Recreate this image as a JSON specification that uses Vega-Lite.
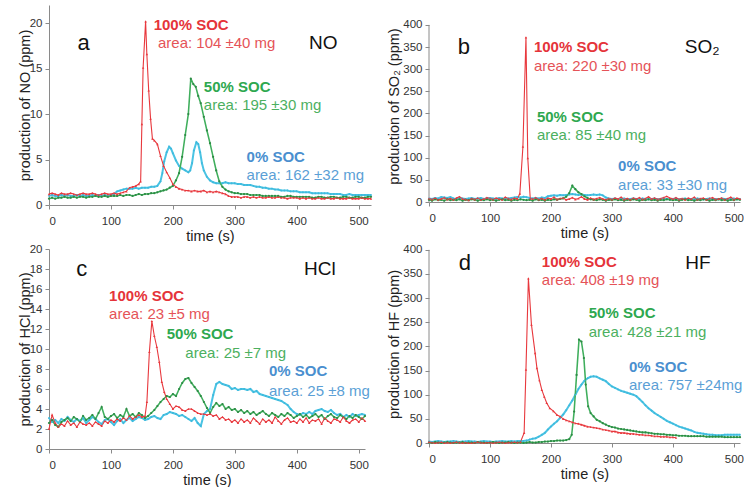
{
"$schema":"https://vega.github.io/schema/vega-lite/v6.json",
"padding":{"left":17,"top":5,"right":0,"bottom":0},
"config":{"font":"Liberation Sans","view":{"stroke":null},
"axis":{"grid":false,"domainColor":"#8a8a8a","tickColor":"#8a8a8a","tickSize":4,"labelFontSize":11.5,"labelColor":"#333","labelPadding":3,"titleFontSize":14.5,"titleFontWeight":"normal","titleColor":"#222","labelFont":"Liberation Sans","titleFont":"Liberation Sans"},
"axisX":{"titlePadding":3,"labelPadding":6},
"axisY":{"titlePadding":-3},
"text":{"font":"Liberation Sans"}},
"datasets":{
"a":[
{"t":0,"s":"c","v":1.0},{"t":5,"s":"c","v":1.1},{"t":10,"s":"c","v":1.0},{"t":15,"s":"c","v":1.0},{"t":20,"s":"c","v":1.1},{"t":25,"s":"c","v":1.0},{"t":30,"s":"c","v":1.1},{"t":35,"s":"c","v":1.0},{"t":40,"s":"c","v":1.0},{"t":45,"s":"c","v":1.1},{"t":50,"s":"c","v":1.0},{"t":55,"s":"c","v":1.1},{"t":60,"s":"c","v":1.0},{"t":65,"s":"c","v":1.0},{"t":70,"s":"c","v":1.1},{"t":75,"s":"c","v":1.0},{"t":80,"s":"c","v":1.1},{"t":85,"s":"c","v":1.0},{"t":90,"s":"c","v":1.1},{"t":95,"s":"c","v":1.0},{"t":100,"s":"c","v":1.1},{"t":105,"s":"c","v":1.2},{"t":110,"s":"c","v":1.5},{"t":115,"s":"c","v":1.6},{"t":120,"s":"c","v":1.7},{"t":125,"s":"c","v":1.8},{"t":130,"s":"c","v":1.8},{"t":135,"s":"c","v":1.8},{"t":140,"s":"c","v":1.9},{"t":145,"s":"c","v":1.8},{"t":150,"s":"c","v":1.9},{"t":155,"s":"c","v":1.9},{"t":160,"s":"c","v":1.9},{"t":165,"s":"c","v":2.0},{"t":170,"s":"c","v":2.0},{"t":175,"s":"c","v":2.1},{"t":180,"s":"c","v":2.6},{"t":183,"s":"c","v":3.5},{"t":186,"s":"c","v":4.8},{"t":190,"s":"c","v":5.8},{"t":194,"s":"c","v":6.4},{"t":197,"s":"c","v":6.2},{"t":200,"s":"c","v":5.7},{"t":205,"s":"c","v":4.9},{"t":210,"s":"c","v":4.3},{"t":215,"s":"c","v":4.0},{"t":220,"s":"c","v":3.8},{"t":225,"s":"c","v":3.6},{"t":228,"s":"c","v":3.8},{"t":231,"s":"c","v":4.6},{"t":234,"s":"c","v":6.0},{"t":238,"s":"c","v":6.9},{"t":241,"s":"c","v":6.7},{"t":244,"s":"c","v":5.8},{"t":247,"s":"c","v":4.6},{"t":250,"s":"c","v":3.8},{"t":255,"s":"c","v":3.1},{"t":260,"s":"c","v":2.7},{"t":265,"s":"c","v":2.5},{"t":270,"s":"c","v":2.4},{"t":275,"s":"c","v":2.4},{"t":280,"s":"c","v":2.4},{"t":285,"s":"c","v":2.5},{"t":290,"s":"c","v":2.4},{"t":295,"s":"c","v":2.4},{"t":300,"s":"c","v":2.4},{"t":305,"s":"c","v":2.3},{"t":310,"s":"c","v":2.3},{"t":315,"s":"c","v":2.2},{"t":320,"s":"c","v":2.2},{"t":325,"s":"c","v":2.2},{"t":330,"s":"c","v":2.1},{"t":335,"s":"c","v":2.0},{"t":340,"s":"c","v":2.0},{"t":345,"s":"c","v":1.9},{"t":350,"s":"c","v":1.9},{"t":355,"s":"c","v":1.8},{"t":360,"s":"c","v":1.8},{"t":365,"s":"c","v":1.7},{"t":370,"s":"c","v":1.7},{"t":375,"s":"c","v":1.6},{"t":380,"s":"c","v":1.6},{"t":385,"s":"c","v":1.6},{"t":390,"s":"c","v":1.5},{"t":395,"s":"c","v":1.5},{"t":400,"s":"c","v":1.5},{"t":405,"s":"c","v":1.4},{"t":410,"s":"c","v":1.4},{"t":415,"s":"c","v":1.4},{"t":420,"s":"c","v":1.4},{"t":425,"s":"c","v":1.3},{"t":430,"s":"c","v":1.3},{"t":435,"s":"c","v":1.3},{"t":440,"s":"c","v":1.3},{"t":445,"s":"c","v":1.3},{"t":450,"s":"c","v":1.3},{"t":455,"s":"c","v":1.2},{"t":460,"s":"c","v":1.2},{"t":465,"s":"c","v":1.2},{"t":470,"s":"c","v":1.2},{"t":475,"s":"c","v":1.1},{"t":480,"s":"c","v":1.1},{"t":485,"s":"c","v":1.2},{"t":490,"s":"c","v":1.1},{"t":495,"s":"c","v":1.1},{"t":500,"s":"c","v":1.1},{"t":505,"s":"c","v":1.1},{"t":510,"s":"c","v":1.1},{"t":515,"s":"c","v":1.1},{"t":520,"s":"c","v":1.1},
{"t":0,"s":"g","v":0.7},{"t":5,"s":"g","v":0.8},{"t":10,"s":"g","v":0.7},{"t":15,"s":"g","v":0.8},{"t":20,"s":"g","v":0.8},{"t":25,"s":"g","v":0.9},{"t":30,"s":"g","v":0.8},{"t":35,"s":"g","v":0.8},{"t":40,"s":"g","v":0.9},{"t":45,"s":"g","v":0.8},{"t":50,"s":"g","v":0.9},{"t":55,"s":"g","v":0.9},{"t":60,"s":"g","v":0.8},{"t":65,"s":"g","v":0.9},{"t":70,"s":"g","v":0.9},{"t":75,"s":"g","v":1.0},{"t":80,"s":"g","v":0.9},{"t":85,"s":"g","v":0.9},{"t":90,"s":"g","v":1.0},{"t":95,"s":"g","v":0.9},{"t":100,"s":"g","v":1.0},{"t":105,"s":"g","v":1.0},{"t":110,"s":"g","v":1.0},{"t":115,"s":"g","v":1.1},{"t":120,"s":"g","v":1.0},{"t":125,"s":"g","v":1.1},{"t":130,"s":"g","v":1.1},{"t":135,"s":"g","v":1.0},{"t":140,"s":"g","v":1.1},{"t":145,"s":"g","v":1.2},{"t":150,"s":"g","v":1.1},{"t":155,"s":"g","v":1.2},{"t":160,"s":"g","v":1.2},{"t":165,"s":"g","v":1.3},{"t":170,"s":"g","v":1.3},{"t":175,"s":"g","v":1.4},{"t":180,"s":"g","v":1.5},{"t":185,"s":"g","v":1.6},{"t":190,"s":"g","v":1.7},{"t":195,"s":"g","v":1.9},{"t":200,"s":"g","v":2.1},{"t":205,"s":"g","v":2.7},{"t":210,"s":"g","v":3.5},{"t":215,"s":"g","v":5.3},{"t":220,"s":"g","v":7.7},{"t":225,"s":"g","v":10.0},{"t":229,"s":"g","v":13.9},{"t":233,"s":"g","v":13.3},{"t":237,"s":"g","v":13.0},{"t":241,"s":"g","v":12.0},{"t":245,"s":"g","v":11.2},{"t":250,"s":"g","v":9.7},{"t":255,"s":"g","v":8.2},{"t":260,"s":"g","v":6.8},{"t":265,"s":"g","v":5.3},{"t":270,"s":"g","v":3.8},{"t":275,"s":"g","v":2.6},{"t":280,"s":"g","v":2.0},{"t":285,"s":"g","v":1.7},{"t":290,"s":"g","v":1.5},{"t":295,"s":"g","v":1.4},{"t":300,"s":"g","v":1.3},{"t":305,"s":"g","v":1.3},{"t":310,"s":"g","v":1.2},{"t":315,"s":"g","v":1.2},{"t":320,"s":"g","v":1.2},{"t":325,"s":"g","v":1.1},{"t":330,"s":"g","v":1.1},{"t":335,"s":"g","v":1.1},{"t":340,"s":"g","v":1.1},{"t":345,"s":"g","v":1.0},{"t":350,"s":"g","v":1.0},{"t":355,"s":"g","v":1.0},{"t":360,"s":"g","v":1.0},{"t":365,"s":"g","v":1.0},{"t":370,"s":"g","v":1.0},{"t":375,"s":"g","v":0.9},{"t":380,"s":"g","v":0.9},{"t":385,"s":"g","v":1.0},{"t":390,"s":"g","v":1.0},{"t":395,"s":"g","v":0.9},{"t":400,"s":"g","v":0.9},{"t":405,"s":"g","v":0.9},{"t":410,"s":"g","v":0.9},{"t":415,"s":"g","v":0.9},{"t":420,"s":"g","v":0.9},{"t":425,"s":"g","v":0.8},{"t":430,"s":"g","v":0.8},{"t":435,"s":"g","v":0.9},{"t":440,"s":"g","v":0.9},{"t":445,"s":"g","v":0.8},{"t":450,"s":"g","v":0.8},{"t":455,"s":"g","v":0.9},{"t":460,"s":"g","v":0.9},{"t":465,"s":"g","v":0.8},{"t":470,"s":"g","v":0.8},{"t":475,"s":"g","v":0.9},{"t":480,"s":"g","v":0.9},{"t":485,"s":"g","v":0.8},{"t":490,"s":"g","v":0.8},{"t":495,"s":"g","v":0.9},{"t":500,"s":"g","v":0.9},{"t":505,"s":"g","v":0.8},{"t":510,"s":"g","v":0.8},{"t":515,"s":"g","v":0.9},{"t":520,"s":"g","v":0.9},
{"t":0,"s":"r","v":1.2},{"t":5,"s":"r","v":1.3},{"t":10,"s":"r","v":1.2},{"t":15,"s":"r","v":1.1},{"t":20,"s":"r","v":1.3},{"t":25,"s":"r","v":1.2},{"t":30,"s":"r","v":1.2},{"t":35,"s":"r","v":1.3},{"t":40,"s":"r","v":1.2},{"t":45,"s":"r","v":1.1},{"t":50,"s":"r","v":1.2},{"t":55,"s":"r","v":1.3},{"t":60,"s":"r","v":1.2},{"t":65,"s":"r","v":1.2},{"t":70,"s":"r","v":1.3},{"t":75,"s":"r","v":1.2},{"t":80,"s":"r","v":1.1},{"t":85,"s":"r","v":1.2},{"t":90,"s":"r","v":1.3},{"t":95,"s":"r","v":1.2},{"t":100,"s":"r","v":1.2},{"t":105,"s":"r","v":1.3},{"t":110,"s":"r","v":1.2},{"t":115,"s":"r","v":1.3},{"t":120,"s":"r","v":1.4},{"t":125,"s":"r","v":1.5},{"t":130,"s":"r","v":1.9},{"t":135,"s":"r","v":2.0},{"t":140,"s":"r","v":2.1},{"t":145,"s":"r","v":2.3},{"t":148,"s":"r","v":2.6},{"t":150,"s":"r","v":8.9},{"t":152,"s":"r","v":15.1},{"t":156,"s":"r","v":20.2},{"t":158,"s":"r","v":16.6},{"t":161,"s":"r","v":12.6},{"t":164,"s":"r","v":9.5},{"t":167,"s":"r","v":7.3},{"t":170,"s":"r","v":7.1},{"t":175,"s":"r","v":6.7},{"t":180,"s":"r","v":5.4},{"t":185,"s":"r","v":4.3},{"t":190,"s":"r","v":3.6},{"t":195,"s":"r","v":3.0},{"t":200,"s":"r","v":2.3},{"t":205,"s":"r","v":2.0},{"t":210,"s":"r","v":1.8},{"t":215,"s":"r","v":1.7},{"t":220,"s":"r","v":1.6},{"t":225,"s":"r","v":1.6},{"t":230,"s":"r","v":1.5},{"t":235,"s":"r","v":1.6},{"t":240,"s":"r","v":1.5},{"t":245,"s":"r","v":1.5},{"t":250,"s":"r","v":1.6},{"t":255,"s":"r","v":1.4},{"t":260,"s":"r","v":1.5},{"t":265,"s":"r","v":1.4},{"t":270,"s":"r","v":1.5},{"t":275,"s":"r","v":1.4},{"t":280,"s":"r","v":1.3},{"t":285,"s":"r","v":1.2},{"t":290,"s":"r","v":1.0},{"t":295,"s":"r","v":0.9},{"t":300,"s":"r","v":0.9},{"t":305,"s":"r","v":0.9},{"t":310,"s":"r","v":0.8},{"t":315,"s":"r","v":0.9},{"t":320,"s":"r","v":0.9},{"t":325,"s":"r","v":0.8},{"t":330,"s":"r","v":0.9},{"t":335,"s":"r","v":0.8},{"t":340,"s":"r","v":0.9},{"t":345,"s":"r","v":0.8},{"t":350,"s":"r","v":0.8},{"t":355,"s":"r","v":0.9},{"t":360,"s":"r","v":0.8},{"t":365,"s":"r","v":0.8},{"t":370,"s":"r","v":0.9},{"t":375,"s":"r","v":0.8},{"t":380,"s":"r","v":0.8},{"t":385,"s":"r","v":0.7},{"t":390,"s":"r","v":0.8},{"t":395,"s":"r","v":0.8},{"t":400,"s":"r","v":0.8},{"t":405,"s":"r","v":0.7},{"t":410,"s":"r","v":0.8},{"t":415,"s":"r","v":0.7},{"t":420,"s":"r","v":0.8},{"t":425,"s":"r","v":0.7},{"t":430,"s":"r","v":0.7},{"t":435,"s":"r","v":0.8},{"t":440,"s":"r","v":0.7},{"t":445,"s":"r","v":0.7},{"t":450,"s":"r","v":0.8},{"t":455,"s":"r","v":0.7},{"t":460,"s":"r","v":0.7},{"t":465,"s":"r","v":0.8},{"t":470,"s":"r","v":0.7},{"t":475,"s":"r","v":0.7},{"t":480,"s":"r","v":0.7},{"t":485,"s":"r","v":0.8},{"t":490,"s":"r","v":0.7},{"t":495,"s":"r","v":0.7},{"t":500,"s":"r","v":0.7},{"t":505,"s":"r","v":0.8},{"t":510,"s":"r","v":0.7},{"t":515,"s":"r","v":0.7},{"t":520,"s":"r","v":0.7}
],
"b":[
{"t":0,"s":"c","v":8},{"t":5,"s":"c","v":7},{"t":10,"s":"c","v":9},{"t":15,"s":"c","v":8},{"t":20,"s":"c","v":11},{"t":25,"s":"c","v":10},{"t":30,"s":"c","v":9},{"t":35,"s":"c","v":11},{"t":40,"s":"c","v":8},{"t":45,"s":"c","v":7},{"t":50,"s":"c","v":9},{"t":55,"s":"c","v":8},{"t":60,"s":"c","v":7},{"t":65,"s":"c","v":8},{"t":70,"s":"c","v":9},{"t":75,"s":"c","v":7},{"t":80,"s":"c","v":8},{"t":85,"s":"c","v":9},{"t":90,"s":"c","v":7},{"t":95,"s":"c","v":8},{"t":100,"s":"c","v":9},{"t":105,"s":"c","v":8},{"t":110,"s":"c","v":7},{"t":115,"s":"c","v":9},{"t":120,"s":"c","v":8},{"t":125,"s":"c","v":7},{"t":130,"s":"c","v":8},{"t":135,"s":"c","v":9},{"t":140,"s":"c","v":10},{"t":145,"s":"c","v":11},{"t":150,"s":"c","v":10},{"t":155,"s":"c","v":12},{"t":160,"s":"c","v":11},{"t":165,"s":"c","v":9},{"t":170,"s":"c","v":8},{"t":175,"s":"c","v":9},{"t":180,"s":"c","v":8},{"t":185,"s":"c","v":10},{"t":190,"s":"c","v":9},{"t":195,"s":"c","v":13},{"t":200,"s":"c","v":14},{"t":205,"s":"c","v":15},{"t":210,"s":"c","v":14},{"t":215,"s":"c","v":16},{"t":220,"s":"c","v":15},{"t":225,"s":"c","v":16},{"t":230,"s":"c","v":17},{"t":235,"s":"c","v":18},{"t":240,"s":"c","v":17},{"t":245,"s":"c","v":16},{"t":250,"s":"c","v":17},{"t":255,"s":"c","v":16},{"t":260,"s":"c","v":15},{"t":265,"s":"c","v":16},{"t":270,"s":"c","v":17},{"t":275,"s":"c","v":16},{"t":280,"s":"c","v":17},{"t":285,"s":"c","v":15},{"t":290,"s":"c","v":10},{"t":295,"s":"c","v":8},{"t":300,"s":"c","v":7},{"t":305,"s":"c","v":8},{"t":310,"s":"c","v":6},{"t":315,"s":"c","v":7},{"t":320,"s":"c","v":8},{"t":325,"s":"c","v":6},{"t":330,"s":"c","v":7},{"t":335,"s":"c","v":8},{"t":340,"s":"c","v":7},{"t":345,"s":"c","v":6},{"t":350,"s":"c","v":8},{"t":355,"s":"c","v":7},{"t":360,"s":"c","v":6},{"t":365,"s":"c","v":7},{"t":370,"s":"c","v":8},{"t":375,"s":"c","v":6},{"t":380,"s":"c","v":7},{"t":385,"s":"c","v":8},{"t":390,"s":"c","v":7},{"t":395,"s":"c","v":6},{"t":400,"s":"c","v":7},{"t":405,"s":"c","v":8},{"t":410,"s":"c","v":6},{"t":415,"s":"c","v":7},{"t":420,"s":"c","v":8},{"t":425,"s":"c","v":6},{"t":430,"s":"c","v":7},{"t":435,"s":"c","v":6},{"t":440,"s":"c","v":8},{"t":445,"s":"c","v":7},{"t":450,"s":"c","v":6},{"t":455,"s":"c","v":7},{"t":460,"s":"c","v":8},{"t":465,"s":"c","v":6},{"t":470,"s":"c","v":7},{"t":475,"s":"c","v":6},{"t":480,"s":"c","v":8},{"t":485,"s":"c","v":7},{"t":490,"s":"c","v":6},{"t":495,"s":"c","v":7},{"t":500,"s":"c","v":8},{"t":505,"s":"c","v":6},{"t":510,"s":"c","v":7},
{"t":0,"s":"g","v":5},{"t":5,"s":"g","v":3},{"t":10,"s":"g","v":6},{"t":15,"s":"g","v":4},{"t":20,"s":"g","v":5},{"t":25,"s":"g","v":3},{"t":30,"s":"g","v":6},{"t":35,"s":"g","v":4},{"t":40,"s":"g","v":5},{"t":45,"s":"g","v":4},{"t":50,"s":"g","v":6},{"t":55,"s":"g","v":3},{"t":60,"s":"g","v":5},{"t":65,"s":"g","v":4},{"t":70,"s":"g","v":6},{"t":75,"s":"g","v":5},{"t":80,"s":"g","v":3},{"t":85,"s":"g","v":5},{"t":90,"s":"g","v":4},{"t":95,"s":"g","v":6},{"t":100,"s":"g","v":4},{"t":105,"s":"g","v":5},{"t":110,"s":"g","v":3},{"t":115,"s":"g","v":5},{"t":120,"s":"g","v":6},{"t":125,"s":"g","v":4},{"t":130,"s":"g","v":5},{"t":135,"s":"g","v":3},{"t":140,"s":"g","v":5},{"t":145,"s":"g","v":4},{"t":150,"s":"g","v":6},{"t":155,"s":"g","v":5},{"t":160,"s":"g","v":4},{"t":165,"s":"g","v":5},{"t":170,"s":"g","v":3},{"t":175,"s":"g","v":6},{"t":180,"s":"g","v":4},{"t":185,"s":"g","v":5},{"t":190,"s":"g","v":3},{"t":195,"s":"g","v":5},{"t":200,"s":"g","v":4},{"t":205,"s":"g","v":6},{"t":210,"s":"g","v":5},{"t":215,"s":"g","v":7},{"t":220,"s":"g","v":8},{"t":225,"s":"g","v":12},{"t":230,"s":"g","v":20},{"t":235,"s":"g","v":37},{"t":240,"s":"g","v":29},{"t":245,"s":"g","v":22},{"t":250,"s":"g","v":18},{"t":255,"s":"g","v":13},{"t":260,"s":"g","v":9},{"t":265,"s":"g","v":6},{"t":270,"s":"g","v":5},{"t":275,"s":"g","v":4},{"t":280,"s":"g","v":6},{"t":285,"s":"g","v":5},{"t":290,"s":"g","v":3},{"t":295,"s":"g","v":5},{"t":300,"s":"g","v":4},{"t":305,"s":"g","v":6},{"t":310,"s":"g","v":4},{"t":315,"s":"g","v":5},{"t":320,"s":"g","v":3},{"t":325,"s":"g","v":5},{"t":330,"s":"g","v":4},{"t":335,"s":"g","v":6},{"t":340,"s":"g","v":5},{"t":345,"s":"g","v":3},{"t":350,"s":"g","v":5},{"t":355,"s":"g","v":4},{"t":360,"s":"g","v":6},{"t":365,"s":"g","v":4},{"t":370,"s":"g","v":5},{"t":375,"s":"g","v":3},{"t":380,"s":"g","v":5},{"t":385,"s":"g","v":4},{"t":390,"s":"g","v":6},{"t":395,"s":"g","v":5},{"t":400,"s":"g","v":4},{"t":405,"s":"g","v":5},{"t":410,"s":"g","v":3},{"t":415,"s":"g","v":5},{"t":420,"s":"g","v":6},{"t":425,"s":"g","v":4},{"t":430,"s":"g","v":5},{"t":435,"s":"g","v":3},{"t":440,"s":"g","v":5},{"t":445,"s":"g","v":4},{"t":450,"s":"g","v":6},{"t":455,"s":"g","v":5},{"t":460,"s":"g","v":3},{"t":465,"s":"g","v":5},{"t":470,"s":"g","v":4},{"t":475,"s":"g","v":6},{"t":480,"s":"g","v":4},{"t":485,"s":"g","v":5},{"t":490,"s":"g","v":3},{"t":495,"s":"g","v":5},{"t":500,"s":"g","v":4},{"t":505,"s":"g","v":6},{"t":510,"s":"g","v":5},
{"t":0,"s":"r","v":8},{"t":5,"s":"r","v":6},{"t":10,"s":"r","v":9},{"t":15,"s":"r","v":5},{"t":20,"s":"r","v":7},{"t":25,"s":"r","v":10},{"t":30,"s":"r","v":6},{"t":35,"s":"r","v":8},{"t":40,"s":"r","v":5},{"t":45,"s":"r","v":9},{"t":50,"s":"r","v":12},{"t":55,"s":"r","v":7},{"t":60,"s":"r","v":6},{"t":65,"s":"r","v":4},{"t":70,"s":"r","v":8},{"t":75,"s":"r","v":6},{"t":80,"s":"r","v":9},{"t":85,"s":"r","v":5},{"t":90,"s":"r","v":7},{"t":95,"s":"r","v":10},{"t":100,"s":"r","v":8},{"t":105,"s":"r","v":6},{"t":110,"s":"r","v":9},{"t":115,"s":"r","v":7},{"t":120,"s":"r","v":5},{"t":125,"s":"r","v":11},{"t":130,"s":"r","v":8},{"t":135,"s":"r","v":6},{"t":140,"s":"r","v":9},{"t":145,"s":"r","v":7},{"t":149,"s":"r","v":19},{"t":154,"s":"r","v":125},{"t":159,"s":"r","v":372},{"t":162,"s":"r","v":99},{"t":166,"s":"r","v":8},{"t":170,"s":"r","v":7},{"t":175,"s":"r","v":10},{"t":180,"s":"r","v":6},{"t":185,"s":"r","v":8},{"t":190,"s":"r","v":5},{"t":195,"s":"r","v":9},{"t":200,"s":"r","v":7},{"t":205,"s":"r","v":11},{"t":210,"s":"r","v":6},{"t":215,"s":"r","v":8},{"t":220,"s":"r","v":9},{"t":225,"s":"r","v":5},{"t":230,"s":"r","v":7},{"t":235,"s":"r","v":10},{"t":240,"s":"r","v":6},{"t":245,"s":"r","v":8},{"t":250,"s":"r","v":12},{"t":255,"s":"r","v":7},{"t":260,"s":"r","v":5},{"t":265,"s":"r","v":9},{"t":270,"s":"r","v":6},{"t":275,"s":"r","v":8},{"t":280,"s":"r","v":10},{"t":285,"s":"r","v":7},{"t":290,"s":"r","v":5},{"t":295,"s":"r","v":8},{"t":300,"s":"r","v":6},{"t":305,"s":"r","v":9},{"t":310,"s":"r","v":7},{"t":315,"s":"r","v":11},{"t":320,"s":"r","v":6},{"t":325,"s":"r","v":8},{"t":330,"s":"r","v":5},{"t":335,"s":"r","v":9},{"t":340,"s":"r","v":7},{"t":345,"s":"r","v":10},{"t":350,"s":"r","v":6},{"t":355,"s":"r","v":8},{"t":360,"s":"r","v":12},{"t":365,"s":"r","v":7},{"t":370,"s":"r","v":9},{"t":375,"s":"r","v":6},{"t":380,"s":"r","v":8},{"t":385,"s":"r","v":10},{"t":390,"s":"r","v":13},{"t":395,"s":"r","v":9},{"t":400,"s":"r","v":7},{"t":405,"s":"r","v":10},{"t":410,"s":"r","v":6},{"t":415,"s":"r","v":8},{"t":420,"s":"r","v":5},{"t":425,"s":"r","v":9},{"t":430,"s":"r","v":7},{"t":435,"s":"r","v":11},{"t":440,"s":"r","v":6},{"t":445,"s":"r","v":8},{"t":450,"s":"r","v":9},{"t":455,"s":"r","v":5},{"t":460,"s":"r","v":8},{"t":465,"s":"r","v":10},{"t":470,"s":"r","v":6},{"t":475,"s":"r","v":7},{"t":480,"s":"r","v":9},{"t":485,"s":"r","v":5},{"t":490,"s":"r","v":8},{"t":495,"s":"r","v":11},{"t":500,"s":"r","v":6},{"t":505,"s":"r","v":9},{"t":510,"s":"r","v":7}
],
"c":[
{"t":0,"s":"c","v":3.1},{"t":5,"s":"c","v":2.7},{"t":10,"s":"c","v":2.9},{"t":15,"s":"c","v":2.6},{"t":20,"s":"c","v":3.0},{"t":25,"s":"c","v":2.8},{"t":30,"s":"c","v":3.2},{"t":35,"s":"c","v":2.9},{"t":40,"s":"c","v":2.7},{"t":45,"s":"c","v":3.0},{"t":50,"s":"c","v":2.8},{"t":55,"s":"c","v":3.1},{"t":60,"s":"c","v":2.6},{"t":65,"s":"c","v":2.9},{"t":70,"s":"c","v":3.2},{"t":75,"s":"c","v":3.0},{"t":80,"s":"c","v":2.7},{"t":85,"s":"c","v":2.5},{"t":90,"s":"c","v":2.9},{"t":95,"s":"c","v":3.0},{"t":100,"s":"c","v":2.7},{"t":105,"s":"c","v":2.4},{"t":110,"s":"c","v":2.8},{"t":115,"s":"c","v":3.0},{"t":120,"s":"c","v":2.6},{"t":125,"s":"c","v":2.9},{"t":130,"s":"c","v":3.1},{"t":135,"s":"c","v":2.8},{"t":140,"s":"c","v":3.0},{"t":145,"s":"c","v":3.2},{"t":150,"s":"c","v":3.1},{"t":155,"s":"c","v":2.9},{"t":160,"s":"c","v":3.0},{"t":165,"s":"c","v":3.2},{"t":170,"s":"c","v":3.3},{"t":175,"s":"c","v":3.1},{"t":180,"s":"c","v":3.0},{"t":185,"s":"c","v":3.4},{"t":190,"s":"c","v":3.5},{"t":195,"s":"c","v":3.7},{"t":200,"s":"c","v":3.6},{"t":205,"s":"c","v":3.5},{"t":210,"s":"c","v":3.3},{"t":215,"s":"c","v":3.4},{"t":220,"s":"c","v":3.2},{"t":225,"s":"c","v":3.0},{"t":230,"s":"c","v":2.8},{"t":235,"s":"c","v":3.1},{"t":240,"s":"c","v":2.6},{"t":245,"s":"c","v":2.3},{"t":250,"s":"c","v":3.5},{"t":255,"s":"c","v":3.8},{"t":260,"s":"c","v":4.0},{"t":265,"s":"c","v":5.4},{"t":270,"s":"c","v":6.5},{"t":275,"s":"c","v":6.7},{"t":280,"s":"c","v":6.5},{"t":285,"s":"c","v":6.4},{"t":290,"s":"c","v":6.3},{"t":295,"s":"c","v":6.0},{"t":300,"s":"c","v":6.1},{"t":305,"s":"c","v":5.9},{"t":310,"s":"c","v":6.0},{"t":315,"s":"c","v":6.0},{"t":320,"s":"c","v":5.9},{"t":325,"s":"c","v":6.0},{"t":330,"s":"c","v":5.7},{"t":335,"s":"c","v":5.8},{"t":340,"s":"c","v":5.5},{"t":345,"s":"c","v":5.4},{"t":350,"s":"c","v":5.3},{"t":355,"s":"c","v":5.2},{"t":360,"s":"c","v":5.1},{"t":365,"s":"c","v":5.0},{"t":370,"s":"c","v":4.9},{"t":375,"s":"c","v":4.8},{"t":380,"s":"c","v":4.6},{"t":385,"s":"c","v":4.4},{"t":390,"s":"c","v":4.0},{"t":395,"s":"c","v":3.7},{"t":400,"s":"c","v":3.5},{"t":405,"s":"c","v":3.4},{"t":410,"s":"c","v":3.6},{"t":415,"s":"c","v":3.5},{"t":420,"s":"c","v":3.7},{"t":425,"s":"c","v":3.5},{"t":430,"s":"c","v":3.8},{"t":435,"s":"c","v":3.9},{"t":440,"s":"c","v":4.0},{"t":445,"s":"c","v":3.8},{"t":450,"s":"c","v":3.7},{"t":455,"s":"c","v":3.9},{"t":460,"s":"c","v":3.6},{"t":465,"s":"c","v":3.4},{"t":470,"s":"c","v":3.5},{"t":475,"s":"c","v":3.2},{"t":480,"s":"c","v":3.4},{"t":485,"s":"c","v":3.2},{"t":490,"s":"c","v":3.5},{"t":495,"s":"c","v":3.3},{"t":500,"s":"c","v":3.4},{"t":505,"s":"c","v":3.5},{"t":510,"s":"c","v":3.4},
{"t":0,"s":"g","v":2.6},{"t":5,"s":"g","v":2.9},{"t":10,"s":"g","v":2.4},{"t":15,"s":"g","v":2.2},{"t":20,"s":"g","v":2.7},{"t":25,"s":"g","v":2.9},{"t":30,"s":"g","v":3.1},{"t":35,"s":"g","v":2.8},{"t":40,"s":"g","v":3.2},{"t":45,"s":"g","v":3.0},{"t":50,"s":"g","v":2.7},{"t":55,"s":"g","v":3.3},{"t":60,"s":"g","v":2.9},{"t":65,"s":"g","v":3.1},{"t":70,"s":"g","v":3.4},{"t":75,"s":"g","v":3.0},{"t":80,"s":"g","v":3.6},{"t":85,"s":"g","v":4.2},{"t":90,"s":"g","v":3.2},{"t":95,"s":"g","v":3.0},{"t":100,"s":"g","v":3.3},{"t":105,"s":"g","v":3.5},{"t":110,"s":"g","v":3.1},{"t":115,"s":"g","v":3.4},{"t":120,"s":"g","v":3.2},{"t":125,"s":"g","v":4.0},{"t":130,"s":"g","v":3.3},{"t":135,"s":"g","v":3.5},{"t":140,"s":"g","v":3.2},{"t":145,"s":"g","v":3.6},{"t":150,"s":"g","v":3.4},{"t":155,"s":"g","v":3.1},{"t":160,"s":"g","v":3.3},{"t":165,"s":"g","v":3.6},{"t":170,"s":"g","v":3.9},{"t":175,"s":"g","v":4.3},{"t":180,"s":"g","v":4.7},{"t":185,"s":"g","v":5.0},{"t":190,"s":"g","v":5.3},{"t":195,"s":"g","v":5.2},{"t":200,"s":"g","v":5.5},{"t":205,"s":"g","v":5.3},{"t":210,"s":"g","v":6.0},{"t":215,"s":"g","v":6.6},{"t":220,"s":"g","v":7.0},{"t":225,"s":"g","v":7.1},{"t":230,"s":"g","v":6.6},{"t":235,"s":"g","v":6.2},{"t":240,"s":"g","v":5.8},{"t":245,"s":"g","v":5.3},{"t":250,"s":"g","v":4.7},{"t":255,"s":"g","v":4.1},{"t":260,"s":"g","v":3.6},{"t":265,"s":"g","v":4.2},{"t":270,"s":"g","v":4.6},{"t":275,"s":"g","v":4.3},{"t":280,"s":"g","v":4.5},{"t":285,"s":"g","v":4.0},{"t":290,"s":"g","v":4.2},{"t":295,"s":"g","v":3.9},{"t":300,"s":"g","v":4.0},{"t":305,"s":"g","v":3.7},{"t":310,"s":"g","v":3.9},{"t":315,"s":"g","v":3.6},{"t":320,"s":"g","v":3.8},{"t":325,"s":"g","v":3.5},{"t":330,"s":"g","v":3.7},{"t":335,"s":"g","v":3.4},{"t":340,"s":"g","v":3.6},{"t":345,"s":"g","v":3.8},{"t":350,"s":"g","v":3.5},{"t":355,"s":"g","v":3.3},{"t":360,"s":"g","v":3.6},{"t":365,"s":"g","v":3.4},{"t":370,"s":"g","v":3.2},{"t":375,"s":"g","v":3.5},{"t":380,"s":"g","v":3.3},{"t":385,"s":"g","v":3.6},{"t":390,"s":"g","v":3.4},{"t":395,"s":"g","v":3.1},{"t":400,"s":"g","v":3.3},{"t":405,"s":"g","v":3.5},{"t":410,"s":"g","v":3.2},{"t":415,"s":"g","v":3.4},{"t":420,"s":"g","v":3.1},{"t":425,"s":"g","v":3.3},{"t":430,"s":"g","v":3.5},{"t":435,"s":"g","v":3.2},{"t":440,"s":"g","v":3.4},{"t":445,"s":"g","v":3.0},{"t":450,"s":"g","v":3.3},{"t":455,"s":"g","v":3.5},{"t":460,"s":"g","v":3.2},{"t":465,"s":"g","v":3.1},{"t":470,"s":"g","v":3.4},{"t":475,"s":"g","v":3.2},{"t":480,"s":"g","v":3.0},{"t":485,"s":"g","v":3.3},{"t":490,"s":"g","v":3.1},{"t":495,"s":"g","v":3.4},{"t":500,"s":"g","v":3.2},{"t":505,"s":"g","v":3.0},{"t":510,"s":"g","v":3.3},
{"t":0,"s":"r","v":2.0},{"t":5,"s":"r","v":3.4},{"t":10,"s":"r","v":2.6},{"t":15,"s":"r","v":2.2},{"t":20,"s":"r","v":2.5},{"t":25,"s":"r","v":2.3},{"t":30,"s":"r","v":2.8},{"t":35,"s":"r","v":2.4},{"t":40,"s":"r","v":2.6},{"t":45,"s":"r","v":2.2},{"t":50,"s":"r","v":2.7},{"t":55,"s":"r","v":2.5},{"t":60,"s":"r","v":2.4},{"t":65,"s":"r","v":2.6},{"t":70,"s":"r","v":2.3},{"t":75,"s":"r","v":2.7},{"t":80,"s":"r","v":2.5},{"t":85,"s":"r","v":2.3},{"t":90,"s":"r","v":2.8},{"t":95,"s":"r","v":2.6},{"t":100,"s":"r","v":2.9},{"t":105,"s":"r","v":2.7},{"t":110,"s":"r","v":3.0},{"t":115,"s":"r","v":2.8},{"t":120,"s":"r","v":3.1},{"t":125,"s":"r","v":2.9},{"t":130,"s":"r","v":3.3},{"t":135,"s":"r","v":3.0},{"t":140,"s":"r","v":3.2},{"t":145,"s":"r","v":3.4},{"t":150,"s":"r","v":3.2},{"t":155,"s":"r","v":3.3},{"t":158,"s":"r","v":4.7},{"t":162,"s":"r","v":9.7},{"t":166,"s":"r","v":12.8},{"t":170,"s":"r","v":11.3},{"t":174,"s":"r","v":10.2},{"t":178,"s":"r","v":8.7},{"t":182,"s":"r","v":6.7},{"t":186,"s":"r","v":5.7},{"t":190,"s":"r","v":5.0},{"t":195,"s":"r","v":4.5},{"t":200,"s":"r","v":4.0},{"t":205,"s":"r","v":4.3},{"t":210,"s":"r","v":4.2},{"t":215,"s":"r","v":3.9},{"t":220,"s":"r","v":3.8},{"t":225,"s":"r","v":4.0},{"t":230,"s":"r","v":4.0},{"t":235,"s":"r","v":3.8},{"t":240,"s":"r","v":3.6},{"t":245,"s":"r","v":3.5},{"t":250,"s":"r","v":3.5},{"t":255,"s":"r","v":3.4},{"t":260,"s":"r","v":3.5},{"t":265,"s":"r","v":3.3},{"t":270,"s":"r","v":3.4},{"t":275,"s":"r","v":3.0},{"t":280,"s":"r","v":3.2},{"t":285,"s":"r","v":2.9},{"t":290,"s":"r","v":3.0},{"t":295,"s":"r","v":2.7},{"t":300,"s":"r","v":2.9},{"t":305,"s":"r","v":2.6},{"t":310,"s":"r","v":3.0},{"t":315,"s":"r","v":2.7},{"t":320,"s":"r","v":2.9},{"t":325,"s":"r","v":2.6},{"t":330,"s":"r","v":3.1},{"t":335,"s":"r","v":2.8},{"t":340,"s":"r","v":2.5},{"t":345,"s":"r","v":3.0},{"t":350,"s":"r","v":2.7},{"t":355,"s":"r","v":2.9},{"t":360,"s":"r","v":2.6},{"t":365,"s":"r","v":3.2},{"t":370,"s":"r","v":2.8},{"t":375,"s":"r","v":2.5},{"t":380,"s":"r","v":2.9},{"t":385,"s":"r","v":3.1},{"t":390,"s":"r","v":2.7},{"t":395,"s":"r","v":2.8},{"t":400,"s":"r","v":2.6},{"t":405,"s":"r","v":3.0},{"t":410,"s":"r","v":2.7},{"t":415,"s":"r","v":3.1},{"t":420,"s":"r","v":2.6},{"t":425,"s":"r","v":2.9},{"t":430,"s":"r","v":2.8},{"t":435,"s":"r","v":3.0},{"t":440,"s":"r","v":2.5},{"t":445,"s":"r","v":3.1},{"t":450,"s":"r","v":2.8},{"t":455,"s":"r","v":2.6},{"t":460,"s":"r","v":3.0},{"t":465,"s":"r","v":2.9},{"t":470,"s":"r","v":2.7},{"t":475,"s":"r","v":3.2},{"t":480,"s":"r","v":2.8},{"t":485,"s":"r","v":2.6},{"t":490,"s":"r","v":2.9},{"t":495,"s":"r","v":3.0},{"t":500,"s":"r","v":2.7},{"t":505,"s":"r","v":3.1},{"t":510,"s":"r","v":2.8}
],
"d":[
{"t":0,"s":"c","v":3},{"t":5,"s":"c","v":2},{"t":10,"s":"c","v":3},{"t":15,"s":"c","v":4},{"t":20,"s":"c","v":3},{"t":25,"s":"c","v":2},{"t":30,"s":"c","v":3},{"t":35,"s":"c","v":3},{"t":40,"s":"c","v":4},{"t":45,"s":"c","v":3},{"t":50,"s":"c","v":2},{"t":55,"s":"c","v":3},{"t":60,"s":"c","v":3},{"t":65,"s":"c","v":4},{"t":70,"s":"c","v":3},{"t":75,"s":"c","v":3},{"t":80,"s":"c","v":2},{"t":85,"s":"c","v":3},{"t":90,"s":"c","v":4},{"t":95,"s":"c","v":3},{"t":100,"s":"c","v":3},{"t":105,"s":"c","v":2},{"t":110,"s":"c","v":3},{"t":115,"s":"c","v":3},{"t":120,"s":"c","v":4},{"t":125,"s":"c","v":3},{"t":130,"s":"c","v":3},{"t":135,"s":"c","v":4},{"t":140,"s":"c","v":3},{"t":145,"s":"c","v":4},{"t":150,"s":"c","v":4},{"t":155,"s":"c","v":4},{"t":160,"s":"c","v":5},{"t":165,"s":"c","v":7},{"t":170,"s":"c","v":9},{"t":175,"s":"c","v":10},{"t":180,"s":"c","v":13},{"t":185,"s":"c","v":17},{"t":190,"s":"c","v":21},{"t":195,"s":"c","v":28},{"t":200,"s":"c","v":34},{"t":205,"s":"c","v":40},{"t":210,"s":"c","v":45},{"t":215,"s":"c","v":52},{"t":220,"s":"c","v":59},{"t":225,"s":"c","v":68},{"t":230,"s":"c","v":78},{"t":235,"s":"c","v":88},{"t":240,"s":"c","v":100},{"t":245,"s":"c","v":112},{"t":250,"s":"c","v":121},{"t":255,"s":"c","v":129},{"t":260,"s":"c","v":134},{"t":265,"s":"c","v":137},{"t":270,"s":"c","v":138},{"t":275,"s":"c","v":137},{"t":280,"s":"c","v":134},{"t":285,"s":"c","v":131},{"t":290,"s":"c","v":128},{"t":295,"s":"c","v":122},{"t":300,"s":"c","v":117},{"t":305,"s":"c","v":114},{"t":310,"s":"c","v":111},{"t":315,"s":"c","v":108},{"t":320,"s":"c","v":106},{"t":325,"s":"c","v":104},{"t":330,"s":"c","v":102},{"t":335,"s":"c","v":100},{"t":340,"s":"c","v":97},{"t":345,"s":"c","v":91},{"t":350,"s":"c","v":85},{"t":355,"s":"c","v":78},{"t":360,"s":"c","v":72},{"t":365,"s":"c","v":67},{"t":370,"s":"c","v":62},{"t":375,"s":"c","v":58},{"t":380,"s":"c","v":54},{"t":385,"s":"c","v":50},{"t":390,"s":"c","v":46},{"t":395,"s":"c","v":43},{"t":400,"s":"c","v":40},{"t":405,"s":"c","v":37},{"t":410,"s":"c","v":34},{"t":415,"s":"c","v":32},{"t":420,"s":"c","v":30},{"t":425,"s":"c","v":28},{"t":430,"s":"c","v":26},{"t":435,"s":"c","v":23},{"t":440,"s":"c","v":21},{"t":445,"s":"c","v":20},{"t":450,"s":"c","v":19},{"t":455,"s":"c","v":18},{"t":460,"s":"c","v":17},{"t":465,"s":"c","v":17},{"t":470,"s":"c","v":16},{"t":475,"s":"c","v":16},{"t":480,"s":"c","v":16},{"t":485,"s":"c","v":17},{"t":490,"s":"c","v":17},{"t":495,"s":"c","v":17},{"t":500,"s":"c","v":17},{"t":505,"s":"c","v":17},{"t":510,"s":"c","v":17},
{"t":0,"s":"g","v":1},{"t":5,"s":"g","v":0},{"t":10,"s":"g","v":2},{"t":15,"s":"g","v":1},{"t":20,"s":"g","v":0},{"t":25,"s":"g","v":1},{"t":30,"s":"g","v":2},{"t":35,"s":"g","v":1},{"t":40,"s":"g","v":0},{"t":45,"s":"g","v":1},{"t":50,"s":"g","v":1},{"t":55,"s":"g","v":2},{"t":60,"s":"g","v":0},{"t":65,"s":"g","v":1},{"t":70,"s":"g","v":1},{"t":75,"s":"g","v":0},{"t":80,"s":"g","v":2},{"t":85,"s":"g","v":1},{"t":90,"s":"g","v":1},{"t":95,"s":"g","v":0},{"t":100,"s":"g","v":1},{"t":105,"s":"g","v":2},{"t":110,"s":"g","v":1},{"t":115,"s":"g","v":0},{"t":120,"s":"g","v":1},{"t":125,"s":"g","v":1},{"t":130,"s":"g","v":2},{"t":135,"s":"g","v":1},{"t":140,"s":"g","v":0},{"t":145,"s":"g","v":1},{"t":150,"s":"g","v":1},{"t":155,"s":"g","v":0},{"t":160,"s":"g","v":1},{"t":165,"s":"g","v":2},{"t":170,"s":"g","v":1},{"t":175,"s":"g","v":1},{"t":180,"s":"g","v":2},{"t":185,"s":"g","v":2},{"t":190,"s":"g","v":3},{"t":195,"s":"g","v":3},{"t":200,"s":"g","v":4},{"t":205,"s":"g","v":4},{"t":210,"s":"g","v":5},{"t":215,"s":"g","v":5},{"t":220,"s":"g","v":5},{"t":225,"s":"g","v":6},{"t":230,"s":"g","v":8},{"t":234,"s":"g","v":17},{"t":238,"s":"g","v":65},{"t":242,"s":"g","v":141},{"t":246,"s":"g","v":214},{"t":250,"s":"g","v":210},{"t":254,"s":"g","v":176},{"t":257,"s":"g","v":121},{"t":261,"s":"g","v":76},{"t":265,"s":"g","v":62},{"t":270,"s":"g","v":55},{"t":275,"s":"g","v":48},{"t":280,"s":"g","v":45},{"t":285,"s":"g","v":41},{"t":290,"s":"g","v":38},{"t":295,"s":"g","v":35},{"t":300,"s":"g","v":33},{"t":305,"s":"g","v":32},{"t":310,"s":"g","v":30},{"t":315,"s":"g","v":29},{"t":320,"s":"g","v":28},{"t":325,"s":"g","v":27},{"t":330,"s":"g","v":26},{"t":335,"s":"g","v":25},{"t":340,"s":"g","v":24},{"t":345,"s":"g","v":23},{"t":350,"s":"g","v":22},{"t":355,"s":"g","v":22},{"t":360,"s":"g","v":21},{"t":365,"s":"g","v":20},{"t":370,"s":"g","v":19},{"t":375,"s":"g","v":19},{"t":380,"s":"g","v":18},{"t":385,"s":"g","v":18},{"t":390,"s":"g","v":17},{"t":395,"s":"g","v":17},{"t":400,"s":"g","v":16},{"t":405,"s":"g","v":16},{"t":410,"s":"g","v":15},{"t":415,"s":"g","v":15},{"t":420,"s":"g","v":15},{"t":425,"s":"g","v":14},{"t":430,"s":"g","v":14},{"t":435,"s":"g","v":14},{"t":440,"s":"g","v":14},{"t":445,"s":"g","v":14},{"t":450,"s":"g","v":14},{"t":455,"s":"g","v":13},{"t":460,"s":"g","v":13},{"t":465,"s":"g","v":13},{"t":470,"s":"g","v":13},{"t":475,"s":"g","v":13},{"t":480,"s":"g","v":13},{"t":485,"s":"g","v":12},{"t":490,"s":"g","v":12},{"t":495,"s":"g","v":12},{"t":500,"s":"g","v":12},{"t":505,"s":"g","v":12},{"t":510,"s":"g","v":12},
{"t":0,"s":"r","v":2},{"t":5,"s":"r","v":1},{"t":10,"s":"r","v":0},{"t":15,"s":"r","v":1},{"t":20,"s":"r","v":2},{"t":25,"s":"r","v":0},{"t":30,"s":"r","v":1},{"t":35,"s":"r","v":0},{"t":40,"s":"r","v":1},{"t":45,"s":"r","v":2},{"t":50,"s":"r","v":1},{"t":55,"s":"r","v":0},{"t":60,"s":"r","v":1},{"t":65,"s":"r","v":0},{"t":70,"s":"r","v":0},{"t":75,"s":"r","v":1},{"t":80,"s":"r","v":2},{"t":85,"s":"r","v":1},{"t":90,"s":"r","v":0},{"t":95,"s":"r","v":1},{"t":100,"s":"r","v":1},{"t":105,"s":"r","v":0},{"t":110,"s":"r","v":1},{"t":115,"s":"r","v":2},{"t":120,"s":"r","v":1},{"t":125,"s":"r","v":0},{"t":130,"s":"r","v":1},{"t":135,"s":"r","v":1},{"t":140,"s":"r","v":2},{"t":145,"s":"r","v":1},{"t":150,"s":"r","v":2},{"t":156,"s":"r","v":21},{"t":159,"s":"r","v":152},{"t":163,"s":"r","v":341},{"t":168,"s":"r","v":245},{"t":174,"s":"r","v":186},{"t":177,"s":"r","v":155},{"t":181,"s":"r","v":130},{"t":185,"s":"r","v":110},{"t":189,"s":"r","v":96},{"t":193,"s":"r","v":83},{"t":198,"s":"r","v":72},{"t":204,"s":"r","v":66},{"t":210,"s":"r","v":58},{"t":215,"s":"r","v":55},{"t":220,"s":"r","v":50},{"t":225,"s":"r","v":47},{"t":230,"s":"r","v":45},{"t":235,"s":"r","v":43},{"t":240,"s":"r","v":41},{"t":245,"s":"r","v":40},{"t":250,"s":"r","v":38},{"t":255,"s":"r","v":36},{"t":260,"s":"r","v":34},{"t":265,"s":"r","v":33},{"t":270,"s":"r","v":32},{"t":275,"s":"r","v":31},{"t":280,"s":"r","v":30},{"t":285,"s":"r","v":28},{"t":290,"s":"r","v":27},{"t":295,"s":"r","v":26},{"t":300,"s":"r","v":24},{"t":305,"s":"r","v":24},{"t":310,"s":"r","v":22},{"t":315,"s":"r","v":21},{"t":320,"s":"r","v":21},{"t":325,"s":"r","v":20},{"t":330,"s":"r","v":19},{"t":335,"s":"r","v":19},{"t":340,"s":"r","v":18},{"t":345,"s":"r","v":17},{"t":350,"s":"r","v":17},{"t":355,"s":"r","v":16},{"t":360,"s":"r","v":16},{"t":365,"s":"r","v":15},{"t":370,"s":"r","v":14},{"t":375,"s":"r","v":14},{"t":380,"s":"r","v":13},{"t":385,"s":"r","v":13},{"t":390,"s":"r","v":13},{"t":395,"s":"r","v":12},{"t":400,"s":"r","v":12},{"t":405,"s":"r","v":11}
]
},
"concat":[
{"width":322,"height":200,
"encoding":{"x":{"field":"t","type":"quantitative","scale":{"domain":[0,520],"nice":false,"zero":false},"axis":{"title":"time (s)","values":[0,100,200,300,400,500]}},
"y":{"field":"v","type":"quantitative","scale":{"domain":[0,22],"nice":false},"axis":{"title":"production of NO (ppm)","values":[0,5,10,15,20]}}},
"layer":[
{"data":{"name":"a"},"mark":{"type":"line"},"encoding":{"stroke":{"field":"s","type":"nominal","scale":{"domain":["c","g","r"],"range":["#4ac3e3","#3fae5c","#e8383d"]},"legend":null},"strokeWidth":{"field":"s","type":"ordinal","scale":{"domain":["c","g","r"],"range":[2,1.1,1.1]},"legend":null}}},
{"data":{"name":"a"},"mark":{"type":"point","filled":true,"opacity":1},"encoding":{"fill":{"field":"s","type":"nominal","scale":{"domain":["c","g","r"],"range":["#3bb8dc","#2d8a45","#e8383d"]},"legend":null},"shape":{"field":"s","type":"nominal","scale":{"domain":["c","g","r"],"range":["cross","circle","triangle-up"]},"legend":null},"size":{"field":"s","type":"ordinal","scale":{"domain":["c","g","r"],"range":[4,6,20]},"legend":null}}},
{"data":{"values":[{"t":169,"v":19.8,"s":"r","txt":"100% SOC"},{"t":250,"v":13.0,"s":"g","txt":"50% SOC"},{"t":319,"v":5.3,"s":"c","txt":"0% SOC"}]},"mark":{"type":"text","align":"left","baseline":"middle","fontSize":15,"fontWeight":"bold"},"encoding":{"text":{"field":"txt"},"fill":{"field":"s","type":"nominal","scale":{"domain":["c","g","r"],"range":["#4a8fcf","#2ea84f","#e5343a"]},"legend":null}}},
{"data":{"values":[{"t":176,"v":17.8,"s":"r","txt":"area: 104 ±40 mg"},{"t":250,"v":11.0,"s":"g","txt":"area: 195 ±30 mg"},{"t":319,"v":3.3,"s":"c","txt":"area: 162 ±32 mg"}]},"mark":{"type":"text","align":"left","baseline":"middle","fontSize":15},"encoding":{"text":{"field":"txt"},"fill":{"field":"s","type":"nominal","scale":{"domain":["c","g","r"],"range":["#5b9fd6","#4cb060","#e55358"]},"legend":null}}},
{"data":{"values":[{"t":56,"v":17.8,"txt":"a"}]},"mark":{"type":"text","fontSize":22,"color":"#111"},"encoding":{"text":{"field":"txt"}}},
{"data":{"values":[{"t":443,"v":17.8,"txt":"NO"}]},"mark":{"type":"text","fontSize":19,"color":"#111"},"encoding":{"text":{"field":"txt"}}}
],
"resolve":{"scale":{"fill":"independent"}}},
{"width":311,"height":197,
"encoding":{"x":{"field":"t","type":"quantitative","scale":{"domain":[0,510],"nice":false,"zero":false},"axis":{"title":"time (s)","values":[0,100,200,300,400,500]}},
"y":{"field":"v","type":"quantitative","scale":{"domain":[0,445],"nice":false},"axis":{"title":"production of SO₂ (ppm)","values":[0,50,100,150,200,250,300,350,400],"domain":false,"titleY":101,"titlePadding":1}}},
"layer":[
{"data":{"values":[{"t":0,"v":0,"v2":400}]},"mark":{"type":"rule","color":"#8a8a8a"},"encoding":{"y2":{"field":"v2"}}},
{"data":{"name":"b"},"mark":{"type":"line"},"encoding":{"stroke":{"field":"s","type":"nominal","scale":{"domain":["c","g","r"],"range":["#4ac3e3","#3fae5c","#e8383d"]},"legend":null},"strokeWidth":{"field":"s","type":"ordinal","scale":{"domain":["c","g","r"],"range":[2,1.1,1.1]},"legend":null}}},
{"data":{"name":"b"},"mark":{"type":"point","filled":true,"opacity":1},"encoding":{"fill":{"field":"s","type":"nominal","scale":{"domain":["c","g","r"],"range":["#3bb8dc","#2d8a45","#e8383d"]},"legend":null},"shape":{"field":"s","type":"nominal","scale":{"domain":["c","g","r"],"range":["cross","circle","triangle-up"]},"legend":null},"size":{"field":"s","type":"ordinal","scale":{"domain":["c","g","r"],"range":[4,6,20]},"legend":null}}},
{"data":{"values":[{"t":172,"v":350,"s":"r","txt":"100% SOC"},{"t":177,"v":192,"s":"g","txt":"50% SOC"},{"t":310,"v":81,"s":"c","txt":"0% SOC"}]},"mark":{"type":"text","align":"left","baseline":"middle","fontSize":15,"fontWeight":"bold"},"encoding":{"text":{"field":"txt"},"fill":{"field":"s","type":"nominal","scale":{"domain":["c","g","r"],"range":["#4a8fcf","#2ea84f","#e5343a"]},"legend":null}}},
{"data":{"values":[{"t":172,"v":307,"s":"r","txt":"area: 220 ±30 mg"},{"t":177,"v":151,"s":"g","txt":"area: 85 ±40 mg"},{"t":310,"v":38,"s":"c","txt":"area: 33 ±30 mg"}]},"mark":{"type":"text","align":"left","baseline":"middle","fontSize":15},"encoding":{"text":{"field":"txt"},"fill":{"field":"s","type":"nominal","scale":{"domain":["c","g","r"],"range":["#5b9fd6","#4cb060","#e55358"]},"legend":null}}},
{"data":{"values":[{"t":57,"v":350,"txt":"b"}]},"mark":{"type":"text","fontSize":22,"color":"#111"},"encoding":{"text":{"field":"txt"}}},
{"data":{"values":[{"t":448,"v":350,"txt":"SO₂"}]},"mark":{"type":"text","fontSize":19,"color":"#111"},"encoding":{"text":{"field":"txt"}}}
],
"resolve":{"scale":{"fill":"independent"}}},
{"width":316,"height":200,
"encoding":{"x":{"field":"t","type":"quantitative","scale":{"domain":[0,510],"nice":false,"zero":false},"axis":{"title":"time (s)","values":[0,100,200,300,400,500]}},
"y":{"field":"v","type":"quantitative","scale":{"domain":[0,20],"nice":false},"axis":{"title":"production of HCl (ppm)","values":[0,2,4,6,8,10,12,14,16,18,20]}}},
"layer":[
{"data":{"name":"c"},"mark":{"type":"line"},"encoding":{"stroke":{"field":"s","type":"nominal","scale":{"domain":["c","g","r"],"range":["#4ac3e3","#3fae5c","#e8383d"]},"legend":null},"strokeWidth":{"field":"s","type":"ordinal","scale":{"domain":["c","g","r"],"range":[2,1.1,1.1]},"legend":null}}},
{"data":{"name":"c"},"mark":{"type":"point","filled":true,"opacity":1},"encoding":{"fill":{"field":"s","type":"nominal","scale":{"domain":["c","g","r"],"range":["#3bb8dc","#2d8a45","#e8383d"]},"legend":null},"shape":{"field":"s","type":"nominal","scale":{"domain":["c","g","r"],"range":["cross","circle","triangle-up"]},"legend":null},"size":{"field":"s","type":"ordinal","scale":{"domain":["c","g","r"],"range":[4,6,20]},"legend":null}}},
{"data":{"values":[{"t":97,"v":15.3,"s":"r","txt":"100% SOC"},{"t":190,"v":11.5,"s":"g","txt":"50% SOC"},{"t":355,"v":7.8,"s":"c","txt":"0% SOC"}]},"mark":{"type":"text","align":"left","baseline":"middle","fontSize":15,"fontWeight":"bold"},"encoding":{"text":{"field":"txt"},"fill":{"field":"s","type":"nominal","scale":{"domain":["c","g","r"],"range":["#4a8fcf","#2ea84f","#e5343a"]},"legend":null}}},
{"data":{"values":[{"t":97,"v":13.5,"s":"r","txt":"area: 23 ±5 mg"},{"t":220,"v":9.6,"s":"g","txt":"area: 25 ±7 mg"},{"t":355,"v":5.8,"s":"c","txt":"area: 25 ±8 mg"}]},"mark":{"type":"text","align":"left","baseline":"middle","fontSize":15},"encoding":{"text":{"field":"txt"},"fill":{"field":"s","type":"nominal","scale":{"domain":["c","g","r"],"range":["#5b9fd6","#4cb060","#e55358"]},"legend":null}}},
{"data":{"values":[{"t":53,"v":18,"txt":"c"}]},"mark":{"type":"text","fontSize":22,"color":"#111"},"encoding":{"text":{"field":"txt"}}},
{"data":{"values":[{"t":437,"v":18,"txt":"HCl"}]},"mark":{"type":"text","fontSize":19,"color":"#111"},"encoding":{"text":{"field":"txt"}}}
],
"resolve":{"scale":{"fill":"independent"}}},
{"width":311,"height":198,
"encoding":{"x":{"field":"t","type":"quantitative","scale":{"domain":[0,510],"nice":false,"zero":false},"axis":{"title":"time (s)","values":[0,100,200,300,400,500]}},
"y":{"field":"v","type":"quantitative","scale":{"domain":[0,410],"nice":false},"axis":{"title":"production of HF (ppm)","values":[0,50,100,150,200,250,300,350,400],"domain":false,"titlePadding":1}}},
"layer":[
{"data":{"values":[{"t":0,"v":0,"v2":400}]},"mark":{"type":"rule","color":"#8a8a8a"},"encoding":{"y2":{"field":"v2"}}},
{"data":{"name":"d"},"mark":{"type":"line"},"encoding":{"stroke":{"field":"s","type":"nominal","scale":{"domain":["c","g","r"],"range":["#4ac3e3","#3fae5c","#e8383d"]},"legend":null},"strokeWidth":{"field":"s","type":"ordinal","scale":{"domain":["c","g","r"],"range":[2,1.1,1.1]},"legend":null}}},
{"data":{"name":"d"},"mark":{"type":"point","filled":true,"opacity":1},"encoding":{"fill":{"field":"s","type":"nominal","scale":{"domain":["c","g","r"],"range":["#3bb8dc","#2d8a45","#e8383d"]},"legend":null},"shape":{"field":"s","type":"nominal","scale":{"domain":["c","g","r"],"range":["cross","circle","triangle-up"]},"legend":null},"size":{"field":"s","type":"ordinal","scale":{"domain":["c","g","r"],"range":[4,6,20]},"legend":null}}},
{"data":{"values":[{"t":185,"v":375,"s":"r","txt":"100% SOC"},{"t":262,"v":269,"s":"g","txt":"50%  SOC"},{"t":328,"v":158,"s":"c","txt":"0% SOC"}]},"mark":{"type":"text","align":"left","baseline":"middle","fontSize":15,"fontWeight":"bold"},"encoding":{"text":{"field":"txt"},"fill":{"field":"s","type":"nominal","scale":{"domain":["c","g","r"],"range":["#4a8fcf","#2ea84f","#e5343a"]},"legend":null}}},
{"data":{"values":[{"t":185,"v":338,"s":"r","txt":"area: 408 ±19 mg"},{"t":262,"v":230,"s":"g","txt":"area: 428 ±21 mg"},{"t":328,"v":120,"s":"c","txt":"area: 757 ±24mg"}]},"mark":{"type":"text","align":"left","baseline":"middle","fontSize":15},"encoding":{"text":{"field":"txt"},"fill":{"field":"s","type":"nominal","scale":{"domain":["c","g","r"],"range":["#5b9fd6","#4cb060","#e55358"]},"legend":null}}},
{"data":{"values":[{"t":59,"v":373,"txt":"d"}]},"mark":{"type":"text","fontSize":22,"color":"#111"},"encoding":{"text":{"field":"txt"}}},
{"data":{"values":[{"t":441,"v":373,"txt":"HF"}]},"mark":{"type":"text","fontSize":19,"color":"#111"},"encoding":{"text":{"field":"txt"}}}
],
"resolve":{"scale":{"fill":"independent"}}}
],
"columns":2,
"align":"none",
"spacing":{"row":0,"column":11}
}
